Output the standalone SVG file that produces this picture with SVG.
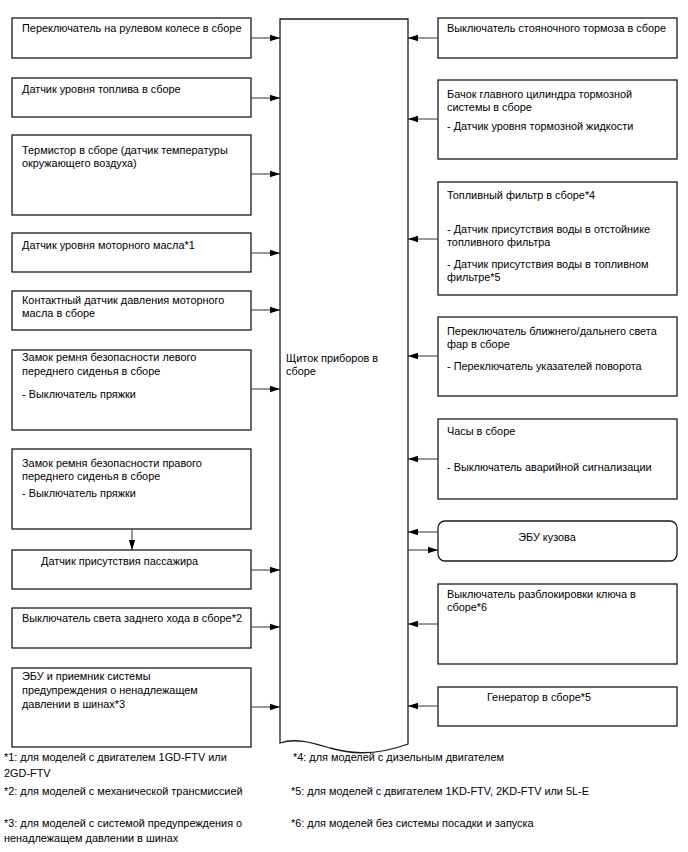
<svg xmlns="http://www.w3.org/2000/svg" width="688" height="852" viewBox="0 0 688 852">
<defs>
<style>
.b{fill:#fff;stroke:#1a1a1a;stroke-width:1.3}
.t{font-family:"Liberation Sans",Arial,sans-serif;font-size:10.9px;fill:#000}
.c{fill:none;stroke:#333;stroke-width:1}
</style>
<marker id="a" viewBox="0 0 10 8" refX="10" refY="4" markerWidth="10" markerHeight="8" markerUnits="userSpaceOnUse" orient="auto">
<path d="M0,0.8 L10,4 L0,7.2 Z" fill="#000"/>
</marker>
</defs>
<rect width="688" height="852" fill="#fff"/>

<g id="cluster">
<path class="b" d="M280,19 H408 V744 C370,758 345,752 330,748 C310,742 295,738 280,743 Z"/>
<text class="t" x="286" y="362">Щиток приборов в</text>
<text class="t" x="286" y="375">сборе</text>
</g>

<g id="l1"><rect class="b" x="12" y="18" width="239" height="40"/>
<text class="t" x="22" y="32">Переключатель на рулевом колесе в сборе</text></g>
<g id="l2"><rect class="b" x="12" y="78" width="239" height="39"/>
<text class="t" x="22" y="93">Датчик уровня топлива в сборе</text></g>
<g id="l3"><rect class="b" x="12" y="135" width="239" height="80"/>
<text class="t" x="22" y="154">Термистор в сборе (датчик температуры</text>
<text class="t" x="22" y="167">окружающего воздуха)</text></g>
<g id="l4"><rect class="b" x="12" y="233" width="239" height="39"/>
<text class="t" x="22" y="249">Датчик уровня моторного масла*1</text></g>
<g id="l5"><rect class="b" x="12" y="291" width="239" height="39"/>
<text class="t" x="22" y="304">Контактный датчик давления моторного</text>
<text class="t" x="22" y="317">масла в сборе</text></g>
<g id="l6"><rect class="b" x="12" y="350" width="239" height="80"/>
<text class="t" x="22" y="361">Замок ремня безопасности левого</text>
<text class="t" x="22" y="375">переднего сиденья в сборе</text>
<text class="t" x="22" y="398">- Выключатель пряжки</text></g>
<g id="l7"><rect class="b" x="12" y="449" width="239" height="80"/>
<text class="t" x="22" y="467">Замок ремня безопасности правого</text>
<text class="t" x="22" y="480">переднего сиденья в сборе</text>
<text class="t" x="22" y="497">- Выключатель пряжки</text></g>
<g id="l8"><rect class="b" x="12" y="550" width="239" height="39"/>
<text class="t" x="41" y="565">Датчик присутствия пассажира</text></g>
<g id="l9"><rect class="b" x="12" y="608" width="239" height="40"/>
<text class="t" x="22" y="622">Выключатель света заднего хода в сборе*2</text></g>
<g id="l10"><rect class="b" x="12" y="668" width="239" height="79"/>
<text class="t" x="22" y="680">ЭБУ и приемник системы</text>
<text class="t" x="22" y="694">предупреждения о ненадлежащем</text>
<text class="t" x="22" y="708">давлении в шинах*3</text></g>

<g id="r1"><rect class="b" x="438" y="18" width="239" height="40"/>
<text class="t" x="447" y="32">Выключатель стояночного тормоза в сборе</text></g>
<g id="r2"><rect class="b" x="438" y="80" width="239" height="79"/>
<text class="t" x="447" y="98">Бачок главного цилиндра тормозной</text>
<text class="t" x="447" y="111">системы в сборе</text>
<text class="t" x="447" y="130">- Датчик уровня тормозной жидкости</text></g>
<g id="r3"><rect class="b" x="438" y="182" width="239" height="113"/>
<text class="t" x="447" y="199">Топливный фильтр в сборе*4</text>
<text class="t" x="447" y="233">- Датчик присутствия воды в отстойнике</text>
<text class="t" x="447" y="246">топливного фильтра</text>
<text class="t" x="447" y="268">- Датчик присутствия воды в топливном</text>
<text class="t" x="447" y="281">фильтре*5</text></g>
<g id="r4"><rect class="b" x="438" y="317" width="239" height="79"/>
<text class="t" x="447" y="335">Переключатель ближнего/дальнего света</text>
<text class="t" x="447" y="348">фар в сборе</text>
<text class="t" x="447" y="370">- Переключатель указателей поворота</text></g>
<g id="r5"><rect class="b" x="438" y="419" width="239" height="80"/>
<text class="t" x="447" y="435">Часы в сборе</text>
<text class="t" x="447" y="471">- Выключатель аварийной сигнализации</text></g>
<g id="r6"><rect class="b" x="438" y="521" width="239" height="40" rx="7" ry="7"/>
<text class="t" x="547" y="541" text-anchor="middle">ЭБУ кузова</text></g>
<g id="r7"><rect class="b" x="438" y="584" width="239" height="80"/>
<text class="t" x="447" y="598">Выключатель разблокировки ключа в</text>
<text class="t" x="447" y="611">сборе*6</text></g>
<g id="r8"><rect class="b" x="438" y="687" width="239" height="39"/>
<text class="t" x="539" y="701" text-anchor="middle">Генератор в сборе*5</text></g>

<g id="connectors">
<path class="c" marker-end="url(#a)" d="M251,38 H280"/>
<path class="c" marker-end="url(#a)" d="M251,98 H280"/>
<path class="c" marker-end="url(#a)" d="M251,174 H280"/>
<path class="c" marker-end="url(#a)" d="M251,253 H280"/>
<path class="c" marker-end="url(#a)" d="M251,310 H280"/>
<path class="c" marker-end="url(#a)" d="M251,389 H280"/>
<path class="c" marker-end="url(#a)" d="M132,529 V550"/>
<path class="c" marker-end="url(#a)" d="M251,570 H280"/>
<path class="c" marker-end="url(#a)" d="M251,627 H280"/>
<path class="c" marker-end="url(#a)" d="M251,707 H280"/>
<path class="c" marker-end="url(#a)" d="M438,38 H408"/>
<path class="c" marker-end="url(#a)" d="M438,119 H408"/>
<path class="c" marker-end="url(#a)" d="M438,239 H408"/>
<path class="c" marker-end="url(#a)" d="M438,356 H408"/>
<path class="c" marker-end="url(#a)" d="M438,459 H408"/>
<path class="c" marker-end="url(#a)" d="M438,532 H408"/>
<path class="c" marker-end="url(#a)" d="M408,550 H438"/>
<path class="c" marker-end="url(#a)" d="M438,624 H408"/>
<path class="c" marker-end="url(#a)" d="M438,706 H408"/>
</g>

<g id="notes">
<text class="t" x="4" y="761">*1: для моделей с двигателем 1GD-FTV или</text>
<text class="t" x="4" y="777">2GD-FTV</text>
<text class="t" x="4" y="795">*2: для моделей с механической трансмиссией</text>
<text class="t" x="4" y="827">*3: для моделей с системой предупреждения о</text>
<text class="t" x="4" y="842">ненадлежащем давлении в шинах</text>
<text class="t" x="293" y="761">*4: для моделей с дизельным двигателем</text>
<text class="t" x="291" y="795">*5: для моделей с двигателем 1KD-FTV, 2KD-FTV или 5L-E</text>
<text class="t" x="291" y="827">*6: для моделей без системы посадки и запуска</text>
</g>
</svg>
